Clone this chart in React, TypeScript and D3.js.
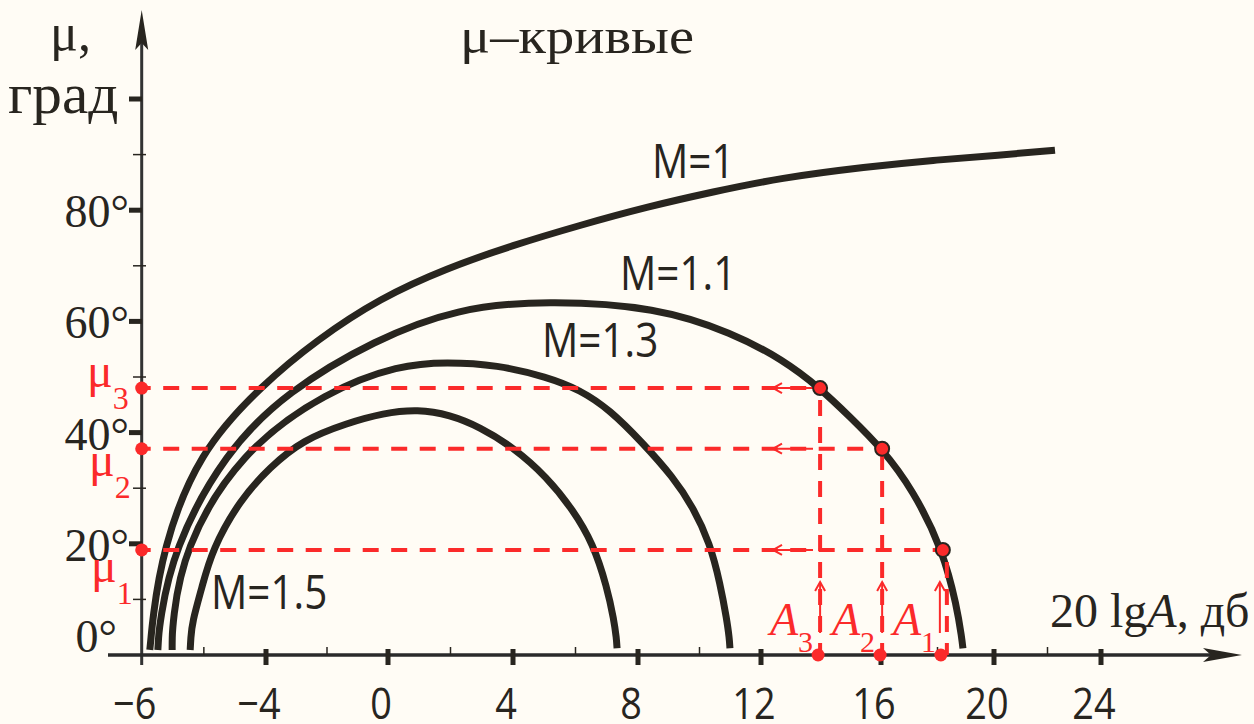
import React from 'react';
import * as d3 from 'd3';

const W = 1254;
const H = 724;

// ---------- data ----------
const xMajorTicks = [-6, -4, 0, 4, 8, 12, 16, 20, 24];
const xMinorTicks = [-5, -2, 2, 6, 10, 14, 18, 22];
const yMajorTicks = [20, 40, 60, 80, 100];
const yMinorTicks = [10, 30, 50, 70, 90];
const yTickLabels = [0, 20, 40, 60, 80];

// [20 lgA (dB), μ (deg)]
const curveM1: [number, number][] = [
  [-5.87, 0.9], [-5.85, 3.0], [-5.83, 5.8], [-5.67, 18.9], [-5.09, 36.5], [-4.05, 48.7], [-2.33, 56.7],
  [-0.26, 64.2], [1.89, 69.6], [4.0, 73.7], [6.14, 77.3], [8.29, 80.6], [10.44, 83.3],
  [12.63, 85.8], [15.53, 87.8], [17.84, 89.0], [20.22, 89.9], [22.28, 90.8],
];
const curveM11: [number, number][] = [
  [-5.74, 0.9], [-5.73, 3.0], [-5.71, 5.8], [-5.5, 18.9], [-4.66, 36.5], [-3.28, 47.5], [-0.43, 56.7],
  [2.21, 62.4], [5.09, 63.8], [8.62, 62.6], [11.09, 57.9], [12.73, 53.1], [13.97, 48.0],
  [14.97, 42.8], [16.04, 37.1], [17.13, 29.7], [18.19, 18.9], [18.69, 8.6], [18.86, 3.0], [18.9, 1.2],
];
const curveM13: [number, number][] = [
  [-5.51, 0.9], [-5.51, 3.0], [-5.5, 5.8], [-5.34, 18.9], [-4.42, 36.5], [-2.0, 47.5], [0.38, 52.2],
  [1.89, 52.7], [3.49, 52.2], [5.09, 50.0], [6.14, 47.7], [7.1, 44.1], [8.16, 38.1],
  [9.14, 32.0], [9.79, 26.6], [10.34, 20.1], [10.67, 12.9], [10.89, 6.3], [10.97, 3.0], [10.99, 1.2],
];
const curveM15: [number, number][] = [
  [-5.22, 0.9], [-5.21, 3.0], [-5.19, 5.8], [-5.03, 12.2], [-4.87, 18.9], [-4.42, 27.9], [-3.87, 33.8],
  [-2.79, 38.7], [-1.34, 41.7], [-0.16, 43.5], [0.96, 44.2], [1.98, 43.2], [2.94, 41.0],
  [4.0, 37.4], [5.09, 32.0], [5.92, 26.1], [6.56, 20.1], [7.01, 12.2], [7.23, 6.3], [7.31, 3.0], [7.33, 1.2],
];
const curveNames = ['M=1', 'M=1.1', 'M=1.3', 'M=1.5'];

// operating points on the M=1.1 curve (index 0 -> A1/μ1)
const aValues = [18.19, 16.04, 13.97];
const muValues = [18.9, 37.1, 48.0];

// ---------- layout ----------
const BG = '#fffcf5';
const INK = '#28251f';
const RED = '#fb2a2a';
const SERIF = '"Liberation Serif", "Times New Roman", serif';
const SANS = '"Open Sans", "Noto Sans", sans-serif';

const xScale = d3
  .scaleLinear()
  .domain(xMajorTicks)
  .range([141.7, 266, 388, 513, 638, 761, 881, 994, 1101]);
const yScale = d3.scaleLinear().domain([0, 100]).range([655, 99]);

const curveLabelPos = [
  { x: 652, y: 178 },
  { x: 620, y: 290 },
  { x: 542, y: 357 },
  { x: 211, y: 609 },
];
const muLabelPos = [
  { x: 91, y: 582 },
  { x: 89, y: 476 },
  { x: 87, y: 387 },
];
const aLabelPos = [
  { x: 893, y: 635 },
  { x: 832, y: 635 },
  { x: 770, y: 635 },
];

const line = d3
  .line<[number, number]>()
  .x((d) => xScale(d[0]))
  .y((d) => yScale(d[1]))
  .curve(d3.curveBasis);

function SansText({ x, y, size, children, anchor = 'start' }: any) {
  return (
    <text
      transform={`translate(${x},${y}) scale(0.86,1)`}
      fontFamily={SANS}
      fontSize={size}
      fill={INK}
      textAnchor={anchor}
    >
      {children}
    </text>
  );
}

export default function App() {
  const x0 = xScale(-6);
  const y0 = yScale(0);
  const curves = [curveM1, curveM11, curveM13, curveM15];
  return (
    <svg
      width={W}
      height={H}
      viewBox={`0 0 ${W} ${H}`}
      style={{ position: 'absolute', left: 0, top: 0, display: 'block' }}
    >
      <rect x={0} y={0} width={W} height={H} fill={BG} />

      {/* title */}
      <text transform="translate(460,53) scale(1.13,1)" fontFamily={SERIF} fontSize={50} fill={INK}>
        μ–кривые
      </text>
      <text x={50} y={50} fontFamily={SERIF} fontSize={52} fill={INK}>
        μ,
      </text>
      <text transform="translate(8,113) scale(1.04,1)" fontFamily={SERIF} fontSize={57} fill={INK}>
        град
      </text>

      {/* axes */}
      <line x1={x0} y1={665} x2={x0} y2={40} stroke="#333" strokeWidth={3} />
      <path d={`M${x0},10 L${x0 + 6.5},50 L${x0},43 L${x0 - 6.5},50 Z`} fill={INK} />
      <line x1={108} y1={y0} x2={1215} y2={y0} stroke="#2a2a2a" strokeWidth={3.5} />
      <path d={`M1242,${y0} L1203,${y0 - 7} L1211,${y0} L1203,${y0 + 7} Z`} fill={INK} />

      {/* x ticks */}
      {xMajorTicks.slice(1).map((t) => (
        <rect key={'xm' + t} x={xScale(t) - 2.5} y={y0 - 6} width={5} height={16} fill={INK} />
      ))}
      {xMinorTicks.map((t) => (
        <line key={'xn' + t} x1={xScale(t)} x2={xScale(t)} y1={y0 - 8} y2={y0} stroke={INK} strokeWidth={1.5} />
      ))}
      {xMajorTicks.map((t) => (
        <SansText key={'xl' + t} x={xScale(t) - 7} y={719} size={44} anchor="middle">
          {t < 0 ? '−' + Math.abs(t) : String(t)}
        </SansText>
      ))}

      {/* y ticks */}
      {yMajorTicks.map((t) => (
        <rect key={'ym' + t} x={129} y={yScale(t) - 2.5} width={13} height={5} fill={INK} />
      ))}
      {yMinorTicks.map((t) => (
        <line key={'yn' + t} x1={133} x2={146} y1={yScale(t)} y2={yScale(t)} stroke={INK} strokeWidth={1.5} />
      ))}
      {yTickLabels.map((t) => (
        <text
          key={'yl' + t}
          x={t === 0 ? 117 : 129}
          y={t === 0 ? yScale(t) - 3 : yScale(t) + 17}
          fontFamily={SERIF}
          fontSize={46}
          fill={INK}
          textAnchor="end"
        >
          {t}°
        </text>
      ))}

      {/* curves */}
      {curves.map((c, i) => (
        <path key={'c' + i} d={line(c) || ''} fill="none" stroke={INK} strokeWidth={7} strokeLinecap="butt" />
      ))}
      {curveNames.map((n, i) => (
        <SansText key={'cn' + i} x={curveLabelPos[i].x} y={curveLabelPos[i].y} size={47}>
          {n}
        </SansText>
      ))}

      {/* red construction lines */}
      {aValues.map((a, i) => {
        const px = xScale(a);
        const py = yScale(muValues[i]);
        const vx = i === 0 ? px + 4 : px;
        const ax = i === 0 ? px - 3 : px;
        return (
          <g key={'r' + i}>
            <line x1={x0} y1={py} x2={px} y2={py} stroke={RED} strokeWidth={4} strokeDasharray="16 12.5" strokeDashoffset={7} />
            <line x1={vx} y1={y0} x2={vx} y2={py} stroke={RED} strokeWidth={4} strokeDasharray="16 11" strokeDashoffset={4} />
            <line x1={773} y1={py} x2={813} y2={py} stroke={RED} strokeWidth={2} />
            <path d={`M${782},${py - 5} L${773},${py} L${782},${py + 5}`} fill="none" stroke={RED} strokeWidth={2} />
            <line x1={ax} y1={633} x2={ax} y2={582} stroke={RED} strokeWidth={2} />
            <path d={`M${ax - 5},${591} L${ax},${582} L${ax + 5},${591}`} fill="none" stroke={RED} strokeWidth={2} />
          </g>
        );
      })}

      {/* red dots */}
      {aValues.map((a, i) => (
        <g key={'d' + i}>
          <circle cx={xScale(a)} cy={yScale(muValues[i])} r={7} fill={RED} stroke={INK} strokeWidth={2} />
          <circle cx={x0} cy={yScale(muValues[i])} r={6.5} fill={RED} />
          <circle cx={xScale(a) - 2} cy={y0} r={6.5} fill={RED} />
        </g>
      ))}

      {/* red labels */}
      {muValues.map((m, i) => (
        <text key={'ml' + i} x={muLabelPos[i].x} y={muLabelPos[i].y} fontFamily={SERIF} fontSize={48} fill={RED}>
          μ<tspan fontSize={32} dy={22}>{i + 1}</tspan>
        </text>
      ))}
      {aValues.map((a, i) => (
        <text key={'al' + i} x={aLabelPos[i].x} y={aLabelPos[i].y} fontFamily={SERIF} fontSize={46} fill={RED}>
          <tspan fontStyle="italic">A</tspan>
          <tspan fontSize={30} dy={17}>{i + 1}</tspan>
        </text>
      ))}

      {/* x axis title */}
      <text x={1050} y={627} fontFamily={SERIF} fontSize={48} fill={INK}>
        20 lg<tspan fontStyle="italic">A</tspan>, дб
      </text>
    </svg>
  );
}
